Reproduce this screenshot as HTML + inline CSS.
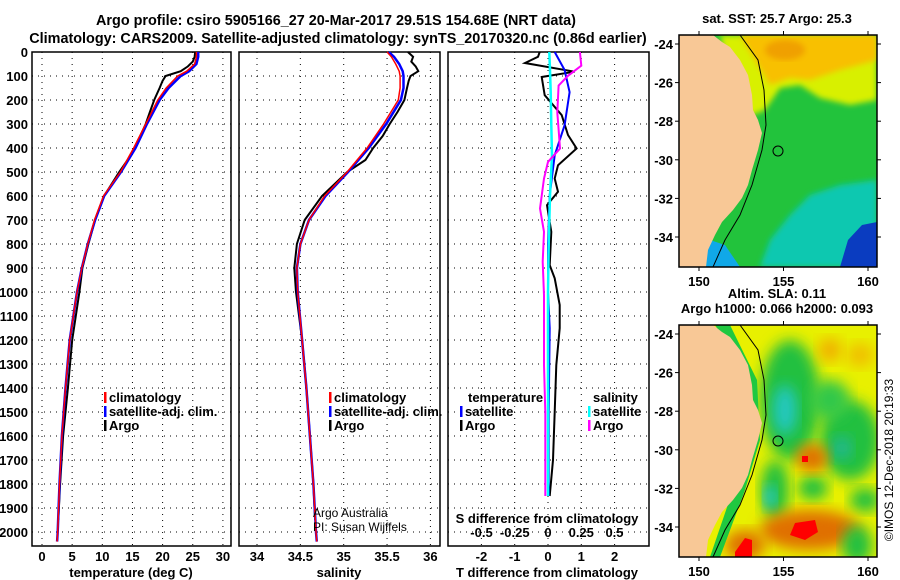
<!DOCTYPE html>
<html><head><meta charset="utf-8"><style>
body{margin:0;background:#fff}
svg{display:block;font-family:"Liberation Sans",sans-serif;font-weight:bold}
</style></head><body>
<svg id="chart" width="900" height="580" viewBox="0 0 900 580" xmlns="http://www.w3.org/2000/svg">
<defs>
<filter id="blur" x="-20%" y="-20%" width="140%" height="140%"><feGaussianBlur stdDeviation="7"/></filter>
<filter id="blur2"><feGaussianBlur stdDeviation="3"/></filter>
<clipPath id="cTop"><rect x="679" y="35" width="198" height="232"/></clipPath>
<clipPath id="cBot"><rect x="679" y="325" width="198" height="232"/></clipPath>
</defs>
<text x="336" y="25" font-size="14.4" text-anchor="middle">Argo profile: csiro 5905166_27 20-Mar-2017 29.51S 154.68E (NRT data)</text>
<text x="338" y="43" font-size="14.4" text-anchor="middle">Climatology: CARS2009. Satellite-adjusted climatology: synTS_20170320.nc (0.86d earlier)</text>
<g id="panels"></g>
<g id="maps"></g>
<text transform="translate(893,460) rotate(-90)" font-size="12" font-weight="normal" text-anchor="middle">©IMOS 12-Dec-2018 20:19:33</text>
</svg>
<script>
// ---- data ----
const depthClim = [0,20,50,80,100,150,200,300,400,500,600,700,800,900,1000,1200,1400,1600,1800,2000,2040];
const tempClim  = [25.6,25.6,25.3,24,22.5,20.6,19.2,17.2,15.2,13,10.2,8.7,7.6,6.6,5.8,4.6,3.9,3.3,2.9,2.6,2.5];
const tempSat   = [25.9,25.9,25.6,24.4,23.0,21.0,19.5,17.4,15.5,13.1,10.3,8.8,7.6,6.6,5.8,4.6,3.9,3.3,2.9,2.6,2.5];
const salClim   = [35.5,35.55,35.6,35.64,35.65,35.65,35.63,35.46,35.27,35.04,34.78,34.6,34.5,34.46,34.47,34.52,34.57,34.61,34.65,34.68,34.69];
const salSat    = [35.52,35.58,35.64,35.68,35.69,35.69,35.66,35.49,35.29,35.05,34.79,34.6,34.5,34.46,34.47,34.52,34.57,34.61,34.65,34.68,34.69];
const depthArgo = [0,20,40,60,80,100,120,150,200,250,300,350,400,450,500,600,700,800,900,1000,1200,1400,1600,1800,1950];
const tempArgo  = [25.4,25.3,25.0,24.2,23.0,20.5,20.0,19.5,18.6,17.9,17.2,16.3,15.3,14.2,12.8,10.3,8.8,7.7,6.7,6.2,5.0,4.3,3.5,3.0,2.7];
const salArgo   = [35.74,35.8,35.78,35.83,35.86,35.77,35.75,35.73,35.7,35.62,35.53,35.45,35.34,35.25,35.04,34.75,34.55,34.46,34.43,34.45,34.52,34.57,34.61,34.65,34.67];
const depthDT   = [0,20,46,82,104,180,263,346,402,472,527,582,638,749,888,943,1054,1151,1304,1500,1700,1850];
const dTArgo    = [-0.25,-0.3,-0.69,0.8,-0.19,-0.1,0.41,0.6,0.86,0.3,0.2,0.3,-0.03,0.1,0.05,0.2,0.35,0.35,0.25,0.2,0.15,0.05];
const depthDS   = [0,57,99,140,252,322,402,458,527,652,749,874,1013,1304,1500,1700,1850];
const dSArgo    = [0.24,0.25,0.15,0.08,0.07,0.08,0.09,0,-0.03,-0.06,-0.03,-0.04,-0.03,-0.03,-0.02,-0.02,-0.02];
const depthSat  = [0,75,167,305,430,597,800,1000,1151,1500,1850];
const dTSat     = [0.2,0.5,0.65,0.5,0.2,0.05,0,0,0.05,0.02,0.02];
const dSSat     = [0.01,0.015,0.02,0.025,0.03,0.015,0.005,0,0,0,0];
const depthTicks = [0,100,200,300,400,500,600,700,800,900,1000,1100,1200,1300,1400,1500,1600,1700,1800,1900,2000];
const tempTicks = [0,5,10,15,20,25,30];
const salTicks = [34,34.5,35,35.5,36];
const dTTicks = [-2,-1,0,1,2];
const dSTicks = [-0.5,-0.25,0,0.25,0.5];
const lonTicks = [150,155,160];
const latTicks = [-24,-26,-28,-30,-32,-34];

const NS='http://www.w3.org/2000/svg';
const P=document.getElementById('panels');
function mk(tag,at,parent){const e=document.createElementNS(NS,tag);for(const k in at)e.setAttribute(k,at[k]);(parent||P).appendChild(e);return e;}
const Y0=52,Y1=546;
const yD=d=>Y0+d*0.24;
const xT=t=>42+t*6.03;
const xS=s=>257+(s-34)*86.7;
const xdT=t=>548+t*33.3;
const xdS=s=>548+s*133;

function panel(x0,x1,name){
  const r=mk('rect',{x:x0,y:Y0,width:x1-x0,height:Y1-Y0,fill:'none',stroke:'#000','stroke-width':1.5});
  
  
  depthTicks.forEach(d=>{
    const l=mk('line',{x1:x0,x2:x1,y1:yD(d),y2:yD(d),stroke:'#000','stroke-dasharray':'1,5','stroke-width':1});
    
    
  });
}
function vgrid(xs,fn,lbl,ly){
  xs.forEach(v=>{
    const l=mk('line',{x1:fn(v),x2:fn(v),y1:Y0,y2:Y1,stroke:'#000','stroke-dasharray':'1,5'});
    
    
    if(lbl){const t=mk('text',{x:fn(v),y:ly,'font-size':13,'text-anchor':'middle'});t.textContent=String(v);
      
      }
  });
}
function line(xs,ds,fx,color,w,name){
  const pts=xs.map((v,i)=>fx(v).toFixed(1)+','+yD(ds[i]).toFixed(1)).join(' ');
  const l=mk('polyline',{points:pts,fill:'none',stroke:color,'stroke-width':w});
  
  
}
function txt(x,y,s,str,anchor,name,weight){const t=mk('text',{x:x,y:y,'font-size':s,'text-anchor':anchor||'start'});if(weight)t.setAttribute('font-weight',weight);t.textContent=str;
  
  return t;}

// panel 1
panel(32,231,'temperature-panel');
vgrid(tempTicks,xT,true,561);
depthTicks.forEach(d=>{txt(28,yD(d)+5,13,String(d),'end','depth-tick-label');});
line(tempArgo,depthArgo,xT,'#000',2,'temp-argo-line');
line(tempSat,depthClim,xT,'#00f',2.5,'temp-satellite-line');
line(tempClim,depthClim,xT,'#f00',1.5,'temp-climatology-line');
txt(131,577,13,'temperature (deg C)','middle','temperature-axis-title');
// panel 2
panel(239,440,'salinity-panel');
vgrid(salTicks,xS,true,561);
line(salArgo,depthArgo,xS,'#000',2,'sal-argo-line');
line(salSat,depthClim,xS,'#00f',2.5,'sal-satellite-line');
line(salClim,depthClim,xS,'#f00',1.5,'sal-climatology-line');
txt(339,577,13,'salinity','middle','salinity-axis-title');
txt(313,517,12,'Argo Australia','start','credit-line-1','normal');
txt(313,531,12,'PI: Susan Wijffels','start','credit-line-2','normal');
// panel 3
panel(448,649,'difference-panel');
vgrid(dTTicks,xdT,true,561);
dSTicks.forEach(v=>{txt(xdS(v),537,13,String(v),'middle','s-tick-label');});
line(dTArgo,depthDT,xdT,'#000',2,'dt-argo-line');
line(dTSat,depthSat,xdT,'#00f',2,'dt-satellite-line');
line(dSSat,depthSat,xdS,'#0ff',2.5,'ds-satellite-line');
line(dSArgo,depthDS,xdS,'#f0f',2,'ds-argo-line');
txt(547,523,13,'S difference from climatology','middle','s-axis-title');
txt(547,577,13,'T difference from climatology','middle','t-axis-title');

// legends
function leg(x,y,c,s,name){const r=mk('rect',{x:x,y:y-10,width:2.5,height:11,fill:c});txt(x+5,y,13,s,'start',name);}
leg(104,402,'#f00','climatology','legend-climatology');
leg(104,416,'#00f','satellite-adj. clim.','legend-satellite');
leg(104,430,'#000','Argo','legend-argo');
leg(329,402,'#f00','climatology','legend2-climatology');
leg(329,416,'#00f','satellite-adj. clim.','legend2-satellite');
leg(329,430,'#000','Argo','legend2-argo');
txt(468,402,13,'temperature','start','legend-temperature-heading');
leg(460,416,'#00f','satellite','legend-t-satellite');
leg(460,430,'#000','Argo','legend-t-argo');
txt(593,402,13,'salinity','start','legend-salinity-heading');
leg(588,416,'#0ff','satellite','legend-s-satellite');
leg(588,430,'#f0f','Argo','legend-s-argo');

// ---- maps ----
const M=document.getElementById('maps');
const coast=[[713,35],[722,42],[730,47],[740,60],[748,75],[752,95],[753,110],[758,120],[762,133],[758,150],[752,170],[748,185],[742,198],[733,210],[722,222],[715,235],[708,250],[706,267],[679,267],[679,35]];
const shelf=[[740,35],[758,60],[764,90],[766,125],[762,150],[752,185],[740,215],[725,240],[713,267]];
const lonX=l=>699+(l-150)*16.9;
function map(top,kind,title1,title2){
  const g=mk('g',{'clip-path':kind==='sst'?'url(#cTop)':'url(#cBot)'},M);
  
  
  const off=top-35;
  const sh=p=>p.map(q=>q[0]+','+(q[1]+off)).join(' ');
  if(kind==='sst'){
    mk('rect',{x:679,y:top,width:198,height:232,fill:'#22c33c'},g);
    mk('polygon',{points:sh([[720,35],[877,35],[877,100],[850,105],[820,98],[800,85],[780,88],[765,110],[740,120]]),fill:'#d8f000',filter:'url(#blur2)'},g);
    mk('polygon',{points:sh([[740,35],[877,35],[877,60],[840,70],[810,80],[790,78],[770,85],[755,60]]),fill:'#f8c000',filter:'url(#blur2)'},g);
    mk('ellipse',{cx:785,cy:50+off,rx:20,ry:10,fill:'#f0a000',filter:'url(#blur2)'},g);
    mk('polygon',{points:sh([[877,180],[840,185],[810,195],[790,215],[770,240],[760,267],[877,267]]),fill:'#10c8b0',filter:'url(#blur2)'},g);
    mk('polygon',{points:sh([[840,267],[848,240],[862,225],[877,222],[877,267]]),fill:'#0a3cc0'},g);
    mk('polygon',{points:sh([[700,267],[710,240],[725,245],[740,267]]),fill:'#10a8e8'},g);
  } else {
    mk('rect',{x:679,y:top,width:198,height:232,fill:'#e8f000'},g);
    const bl=[[790,110,30,60,'#20c040'],[785,120,12,25,'#20c8c0'],[850,150,30,40,'#20c040'],[842,158,10,12,'#20b890'],[775,200,14,30,'#20c040'],[770,207,6,12,'#20c8d8'],[813,198,15,12,'#20c040'],[865,210,15,12,'#20c040'],[812,168,16,14,'#e07000'],[810,240,50,20,'#e07000'],[745,255,20,15,'#e07000'],[857,255,15,20,'#20c040'],[830,60,12,12,'#f0b000'],[860,65,14,12,'#f0c000'],[830,110,20,20,'#30c848']];
    bl.forEach(b=>mk('ellipse',{cx:b[0],cy:b[1]+off,rx:b[2],ry:b[3],fill:b[4],filter:'url(#blur)'},g));
    mk('rect',{x:802,y:166+off,width:6,height:6,fill:'#f00'},g);
    mk('polygon',{points:sh([[795,233],[815,230],[818,242],[805,250],[790,245]]),fill:'#f00'},g);
    mk('polygon',{points:sh([[735,262],[745,248],[752,250],[752,267],[735,267]]),fill:'#f00'},g);
    mk('polygon',{points:sh([[730,35],[757,90],[760,150],[745,200],[720,267],[710,267],[750,150],[745,80],[715,35]]),fill:'#20c840'},g);
  }
  const c=mk('polygon',{points:sh(coast),fill:'#f8c896'},g);
  
  
  mk('polyline',{points:sh(shelf),fill:'none',stroke:'#000','stroke-width':1},g);
  const pc=mk('circle',{cx:778,cy:151+off,r:5,fill:'none',stroke:'#000','stroke-width':1},M);
  
  
  const fr=mk('rect',{x:679,y:top,width:198,height:232,fill:'none',stroke:'#000','stroke-width':1.5},M);
  
  
  lonTicks.forEach(l=>{mk('line',{x1:lonX(l),x2:lonX(l),y1:top,y2:top-4,stroke:'#000'},M);mk('line',{x1:lonX(l),x2:lonX(l),y1:top+232,y2:top+236,stroke:'#000'},M);
    const t=mk('text',{x:lonX(l),y:top+251,'font-size':13,'text-anchor':'middle'},M);t.textContent=l;
    
    });
  latTicks.forEach(a=>{const y=top+9+(-24-a)*19.3;mk('line',{x1:675,x2:679,y1:y,y2:y,stroke:'#000'},M);mk('line',{x1:877,x2:881,y1:y,y2:y,stroke:'#000'},M);
    const t=mk('text',{x:673,y:y+5,'font-size':13,'text-anchor':'end'},M);t.textContent=a;
    
    });
  const t1=mk('text',{x:777,y:top-12,'font-size':13,'text-anchor':'middle'},M);t1.textContent=title1;
  
  
  if(title2){t1.setAttribute('y',top-27);const t2=mk('text',{x:777,y:top-12,'font-size':13,'text-anchor':'middle'},M);t2.textContent=title2;
    
    }
}
map(35,'sst','sat. SST: 25.7 Argo: 25.3');
map(325,'sla','Altim. SLA: 0.11','Argo h1000: 0.066 h2000: 0.093');
</script>
</body></html>
